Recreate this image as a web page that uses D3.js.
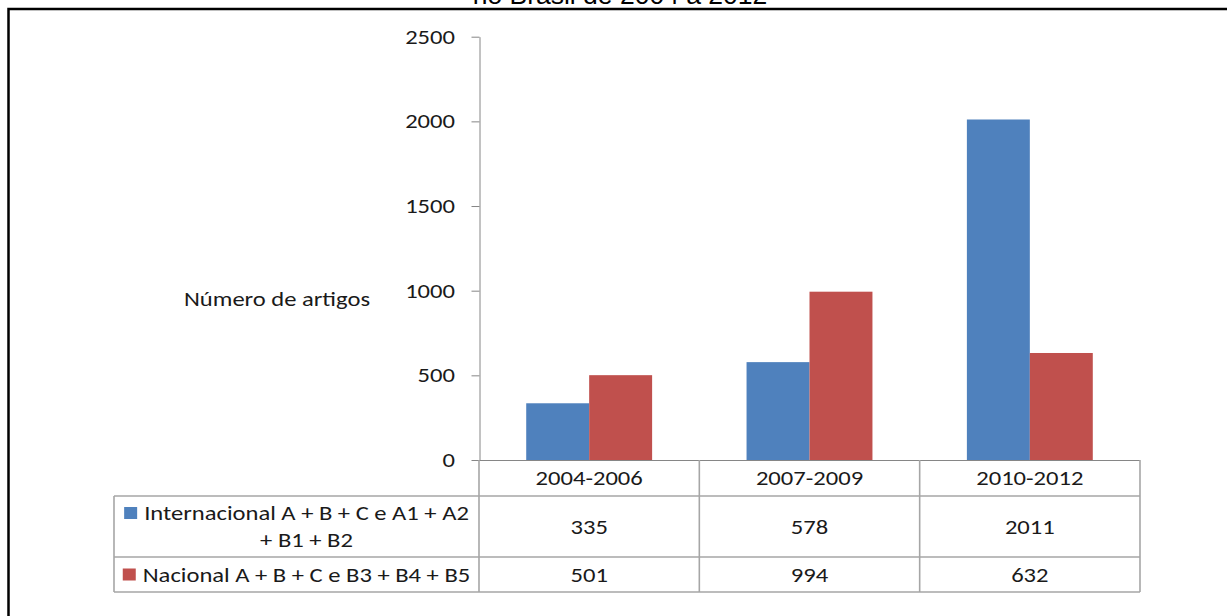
<!DOCTYPE html>
<html><head><meta charset="utf-8">
<script src="https://cdn.jsdelivr.net/npm/d3@7"></script>
<style>
html,body{margin:0;padding:0;background:#fff;}
svg{display:block;}
text{font-family:Carlito,Lato,"Open Sans",sans-serif;fill:#1a1a1a;}
</style></head><body>
<svg id="c" width="1227" height="616"></svg>
<script>
const categories = ["2004-2006", "2007-2009", "2010-2012"];
const seriesNames = ["Internacional A + B + C e A1 + A2 + B1 + B2", "Nacional A + B + C e B3 + B4 + B5"];
const seriesLines = [["Internacional A + B + C e A1 + A2", "+ B1 + B2"], ["Nacional A + B + C e B3 + B4 + B5"]];
const international = [335, 578, 2011];
const nacional = [501, 994, 632];
const yTicks = [0, 500, 1000, 1500, 2000, 2500];
const colors = ["#4F81BD", "#C0504D"];
const titleText = "no Brasil de 2004 a 2012";
const yLabel = "Número de artigos";

const values = [international, nacional];
const svg = d3.select("#c");
const FS = 20.5;
const SX = 1.2;

function addText(px, py, str, anchor) {
  const g = svg.append("g").attr("transform", `translate(${px},${py}) scale(${SX},1)`);
  return g.append("text").attr("x", 0).attr("y", 0).attr("dy", "0.35em")
    .attr("text-anchor", anchor || "middle").style("font-size", FS + "px").text(str);
}

// outer frame (clipped by window)
svg.append("path").attr("d", "M8.5,700V9H1300").attr("fill", "none").attr("stroke", "#000").attr("stroke-width", 2.5);

svg.append("text").attr("x", 620).attr("y", 4).attr("text-anchor", "middle")
  .style("font-family", "'Liberation Sans',Arial,sans-serif").style("font-size", "26.5px").style("fill", "#000")
  .text(titleText);

const x = d3.scaleBand().domain(categories).range([479, 1140]).padding(0);
const x1 = d3.scaleBand().domain([0, 1]).range([0, x.bandwidth()]).paddingInner(0).paddingOuter(0.75);
const y = d3.scaleLinear().domain([0, 2500]).range([460, 36.7]);

// bars
categories.forEach((c, i) => {
  [0, 1].forEach(s => {
    svg.append("rect")
      .attr("x", x(c) + x1(s)).attr("width", x1.bandwidth())
      .attr("y", y(values[s][i])).attr("height", y(0) - y(values[s][i]))
      .attr("fill", colors[s]);
  });
});

// y axis
const ax = svg.append("g").attr("transform", "translate(479.5,0)")
  .call(d3.axisLeft(y).tickValues(yTicks).tickFormat(d3.format("d")).tickSize(8).tickPadding(16).tickSizeOuter(0));
ax.select(".domain").attr("stroke", "#868686");
ax.selectAll(".tick line").attr("stroke", "#868686");
ax.selectAll(".tick text").style("font-size", FS + "px").style("font-family", "Carlito,Lato,'Open Sans',sans-serif")
  .attr("fill", "#1a1a1a").attr("x", -24.5 / SX).attr("transform", `scale(${SX},1)`);

addText(277, 299, yLabel);

// data table
const rowTop = [460, 496, 557, 592];
const gridColor = "#a6a6a6";
const tl = svg.append("g").attr("stroke", gridColor).attr("stroke-width", 1.6).attr("fill", "none");
tl.append("line").attr("x1", 479).attr("x2", 1140).attr("y1", 460.5).attr("y2", 460.5).attr("stroke", "#868686").attr("stroke-width", 1.2);
[1, 2, 3].forEach(r => tl.append("line").attr("x1", 114).attr("x2", 1140).attr("y1", rowTop[r]).attr("y2", rowTop[r]));
tl.append("line").attr("x1", 114).attr("x2", 114).attr("y1", rowTop[1]).attr("y2", rowTop[3]);
x.domain().forEach(c => tl.append("line").attr("x1", x(c)).attr("x2", x(c)).attr("y1", 460).attr("y2", rowTop[3]));
tl.append("line").attr("x1", 1140).attr("x2", 1140).attr("y1", 460).attr("y2", rowTop[3]);

// category labels
categories.forEach(c => addText(x(c) + x.bandwidth() / 2, 478, c));
// values
values.forEach((vals, s) => {
  const cy = (rowTop[s + 1] + rowTop[s + 2]) / 2;
  vals.forEach((v, i) => addText(x(categories[i]) + x.bandwidth() / 2, cy, v));
});
// legend cells
const legCenter = (114 + 479) / 2;
seriesLines.forEach((lines, s) => {
  const cy = (rowTop[s + 1] + rowTop[s + 2]) / 2;
  const lh = 27;
  const y0 = cy - (lines.length - 1) * lh / 2;
  const texts = lines.map((t, k) => addText(0, y0 + k * lh, t));
  const w = d3.max(texts, t => t.node().getComputedTextLength()) * SX;
  const start = legCenter - (13 + 7 + w) / 2;
  const tc = start + 20 + w / 2;
  texts.forEach((t, k) => d3.select(t.node().parentNode).attr("transform", `translate(${tc},${y0 + k * lh}) scale(${SX},1)`));
  svg.append("rect").attr("x", start).attr("y", y0 - 6).attr("width", 13).attr("height", 12).attr("fill", colors[s]);
});
</script>
</body></html>
